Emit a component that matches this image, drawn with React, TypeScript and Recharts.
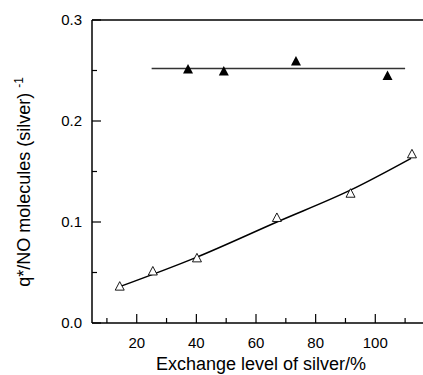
import { ComposedChart, Line, Scatter, XAxis, YAxis, ReferenceLine } from 'recharts';

// open triangles (lower series)
const openPoints = [
  { x: 14.3, y: 0.036 },
  { x: 25.4, y: 0.051 },
  { x: 40.2, y: 0.064 },
  { x: 67.0, y: 0.104 },
  { x: 91.7, y: 0.128 },
  { x: 112.3, y: 0.167 },
];

// filled triangles (upper series)
const filledPoints = [
  { x: 37.2, y: 0.251 },
  { x: 49.2, y: 0.249 },
  { x: 73.4, y: 0.259 },
  { x: 104.1, y: 0.2445 },
];

// fitted curve through open triangles
const fitCurve = [
  { x: 14.3, y: 0.036 },
  { x: 40, y: 0.065 },
  { x: 67, y: 0.1 },
  { x: 92, y: 0.132 },
  { x: 112, y: 0.163 },
];

// flat line through filled triangles
const flatLine = [
  { x: 25, y: 0.252 },
  { x: 110, y: 0.252 },
];

const xTicks = [10, 20, 30, 40, 50, 60, 70, 80, 90, 100, 110];
const xLabels = [20, 40, 60, 80, 100];
const yTicks = [0, 0.05, 0.1, 0.15, 0.2, 0.25, 0.3];
const yLabels = [0, 0.1, 0.2, 0.3];

const font = '"Liberation Sans", Arial, sans-serif';

function XTick(props: any) {
  const { x, y, payload } = props;
  const major = xLabels.includes(payload.value);
  return (
    <g>
      <line x1={x} y1={y} x2={x} y2={y - (major ? 9 : 5)} stroke="#000" strokeWidth={1.2} />
      {major && (
        <text x={x} y={y + 20} dy="0.35em" textAnchor="middle" fontSize={15} fontFamily={font} fill="#000">
          {payload.value}
        </text>
      )}
    </g>
  );
}

function YTick(props: any) {
  const { x, y, payload } = props;
  const major = yLabels.some((v) => Math.abs(v - payload.value) < 1e-9);
  return (
    <g>
      <line x1={x} y1={y} x2={x + (major ? 9 : 5)} y2={y} stroke="#000" strokeWidth={1.2} />
      {major && (
        <text x={x - 10} y={y} dy="0.35em" textAnchor="end" fontSize={15} fontFamily={font} fill="#000">
          {payload.value.toFixed(1)}
        </text>
      )}
    </g>
  );
}

function FilledTriangle(props: any) {
  const { cx, cy } = props;
  return <polygon points={`${cx},${cy - 5.5} ${cx - 5},${cy + 4} ${cx + 5},${cy + 4}`} fill="#000" />;
}

function OpenTriangle(props: any) {
  const { cx, cy } = props;
  return (
    <polygon
      points={`${cx},${cy - 5} ${cx - 4.5},${cy + 3.5} ${cx + 4.5},${cy + 3.5}`}
      fill="#fff"
      stroke="#000"
      strokeWidth={0.9}
    />
  );
}

function XTitle() {
  return (
    <text x={261} y={364} dy="0.35em" textAnchor="middle" fontSize={18} fontFamily={font} fill="#000">
      Exchange level of silver/%
    </text>
  );
}

function YTitle() {
  return (
    <text
      x={30}
      y={182}
      transform="rotate(-90, 30, 182)"
      textAnchor="middle"
      fontSize={18}
      fontFamily={font}
      fill="#000"
    >
      <tspan>q*/NO molecules (silver) </tspan>
      <tspan dy={-7} fontSize={12}>-1</tspan>
    </text>
  );
}

export default function App() {
  return (
    <div style={{ position: 'absolute', left: 0, top: 0, background: '#fff' }}>
      <ComposedChart width={423} height={375} margin={{ top: 20, right: 0, bottom: 0, left: 0 }}>
        <XAxis
          type="number"
          dataKey="x"
          domain={[5, 116]}
          ticks={xTicks}
          allowDataOverflow
          height={52}
          tickSize={0}
          tickMargin={0}
          tickLine={false}
          tick={<XTick />}
          axisLine={{ stroke: '#000', strokeWidth: 1.5 }}
          label={<XTitle />}
        />
        <YAxis
          type="number"
          dataKey="y"
          domain={[0, 0.3]}
          ticks={yTicks}
          width={92}
          tickSize={0}
          tickMargin={0}
          tickLine={false}
          tick={<YTick />}
          axisLine={{ stroke: '#000', strokeWidth: 1.5 }}
          label={<YTitle />}
        />
        <ReferenceLine y={0.3} stroke="#000" strokeWidth={1.5} />
        <Line
          data={flatLine}
          dataKey="y"
          stroke="#333"
          strokeWidth={1.5}
          dot={false}
          isAnimationActive={false}
        />
        <Line
          data={fitCurve}
          dataKey="y"
          type="monotone"
          stroke="#000"
          strokeWidth={1.5}
          dot={false}
          isAnimationActive={false}
        />
        <Scatter data={openPoints} dataKey="y" shape={<OpenTriangle />} isAnimationActive={false} />
        <Scatter data={filledPoints} dataKey="y" shape={<FilledTriangle />} isAnimationActive={false} />
      </ComposedChart>
    </div>
  );
}
